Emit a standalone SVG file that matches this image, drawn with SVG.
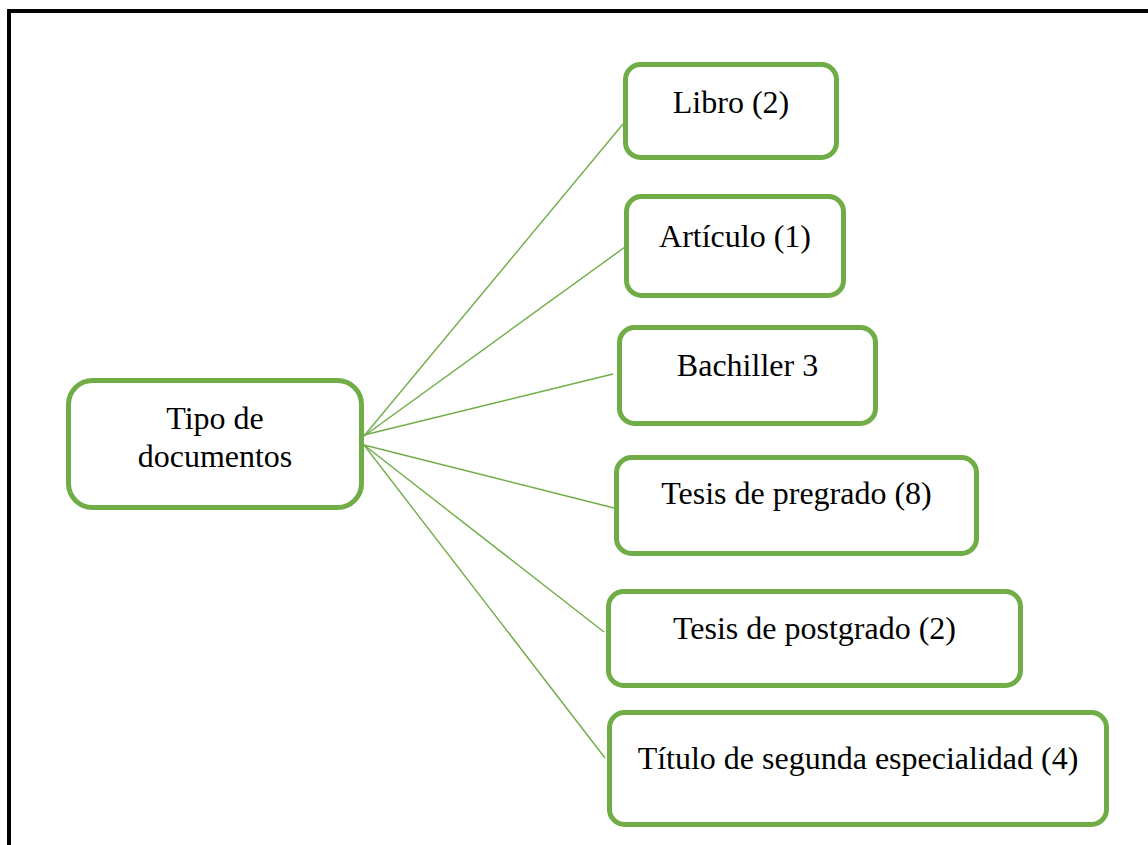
<svg xmlns="http://www.w3.org/2000/svg" width="1148" height="845" viewBox="0 0 1148 845">
<style>
.box{fill:#fff;stroke:#70AD47;stroke-width:5}
.lbl{font-family:"Liberation Serif","Times New Roman",serif;font-size:32px;fill:#000;text-anchor:middle}
.con{stroke:#70AD47;stroke-width:1.4;fill:none}
</style>
<rect x="0" y="0" width="1148" height="845" fill="#fff"/>
<rect x="9" y="11" width="1160" height="860" fill="none" stroke="#000" stroke-width="4"/>
<g id="connectors">
<line class="con" x1="364" y1="436" x2="623" y2="124"/>
<line class="con" x1="364" y1="436" x2="625" y2="247"/>
<line class="con" x1="364" y1="435" x2="613" y2="374"/>
<line class="con" x1="364" y1="445" x2="614" y2="508"/>
<line class="con" x1="364" y1="445" x2="604" y2="632"/>
<line class="con" x1="364" y1="445" x2="605" y2="758"/>
</g>
<g id="root">
<rect class="box" x="68.5" y="380.5" width="293" height="127" rx="24"/>
<text class="lbl" x="215" y="429">Tipo de</text>
<text class="lbl" x="215" y="467">documentos</text>
</g>
<g id="libro">
<rect class="box" x="625.5" y="64.5" width="211" height="93" rx="15"/>
<text class="lbl" x="731" y="113">Libro (2)</text>
</g>
<g id="articulo">
<rect class="box" x="626.5" y="196.5" width="217" height="99" rx="15"/>
<text class="lbl" x="735" y="247">Artículo (1)</text>
</g>
<g id="bachiller">
<rect class="box" x="619.5" y="327.5" width="256" height="96" rx="15"/>
<text class="lbl" x="747.5" y="376">Bachiller 3</text>
</g>
<g id="pregrado">
<rect class="box" x="616.5" y="457.5" width="360" height="96" rx="15"/>
<text class="lbl" x="796.5" y="504">Tesis de pregrado (8)</text>
</g>
<g id="postgrado">
<rect class="box" x="608.5" y="591.5" width="412" height="94" rx="15"/>
<text class="lbl" x="814.5" y="639">Tesis de postgrado (2)</text>
</g>
<g id="titulo">
<rect class="box" x="609.5" y="712.5" width="497" height="112" rx="15"/>
<text class="lbl" x="858" y="769">Título de segunda especialidad (4)</text>
</g>
</svg>
